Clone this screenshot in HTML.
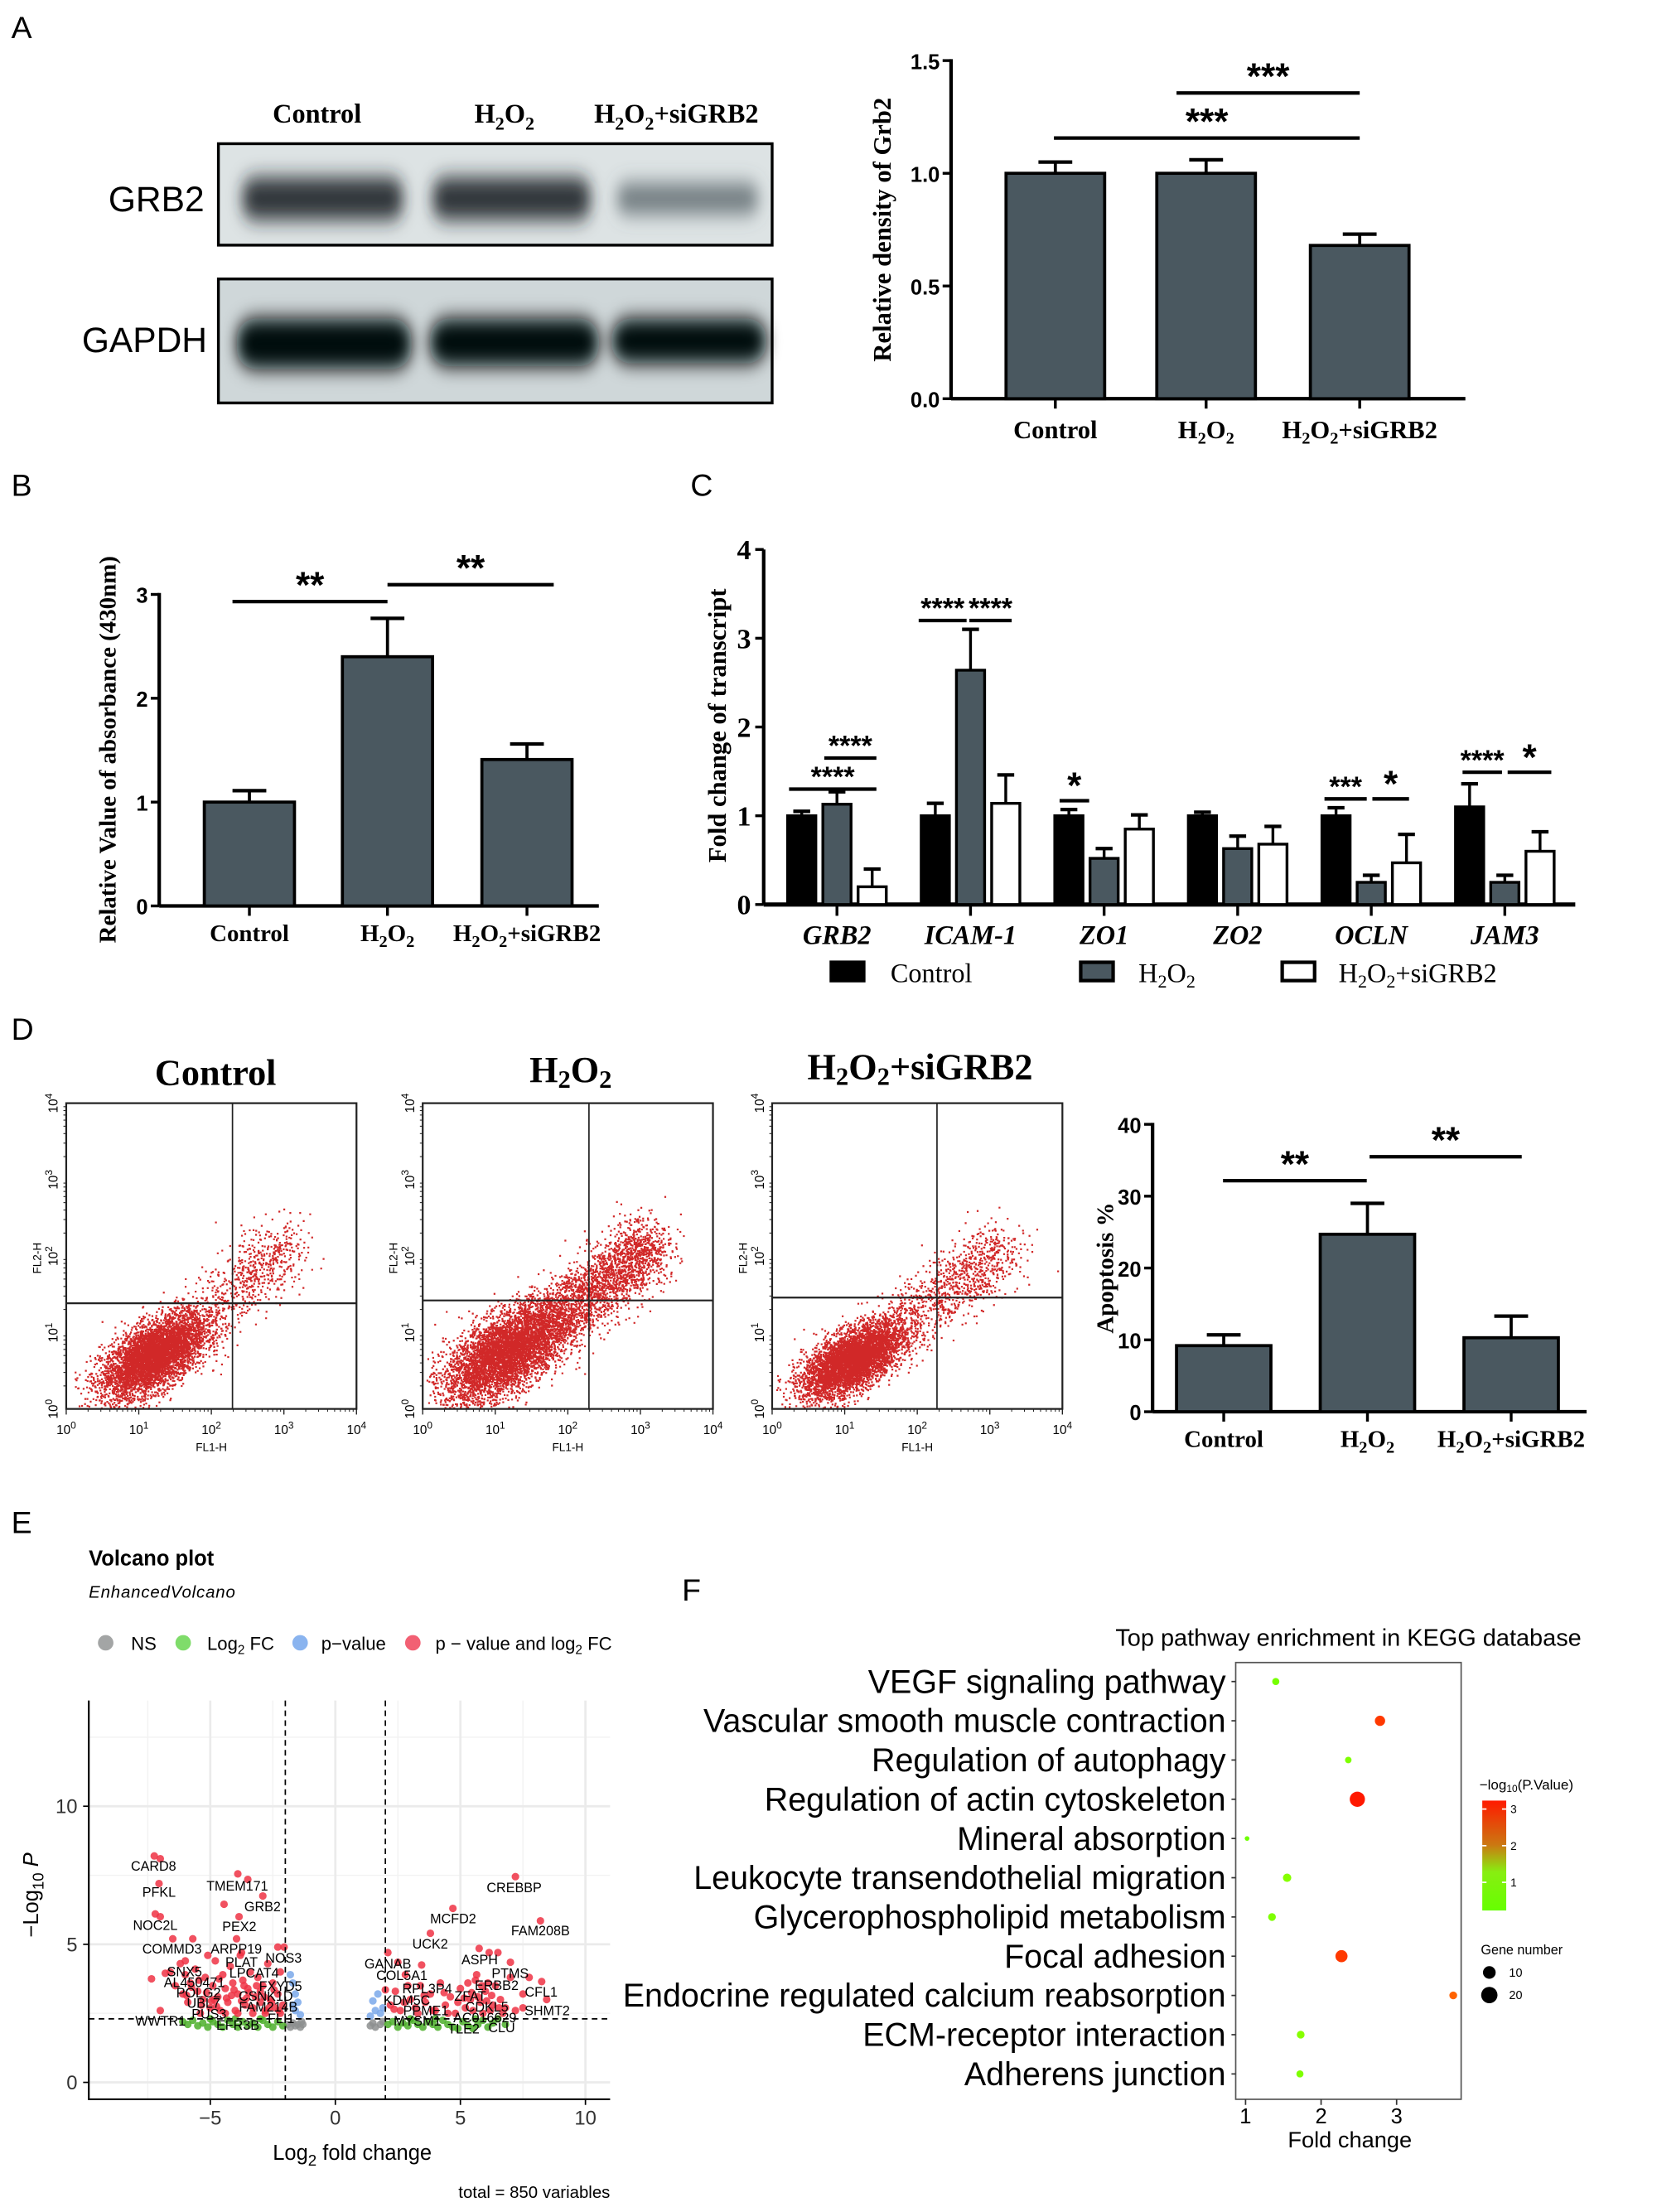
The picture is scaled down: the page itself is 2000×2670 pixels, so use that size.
<!DOCTYPE html>
<html><head><meta charset="utf-8">
<style>
html,body{margin:0;padding:0;background:#fff;}
svg{display:block;}
.ser{font-family:"Liberation Serif",serif;font-weight:bold;}
.sans{font-family:"Liberation Sans",sans-serif;}
.sb{font-family:"Liberation Sans",sans-serif;font-weight:bold;}
</style></head>
<body>
<svg id="fig" xmlns="http://www.w3.org/2000/svg" width="2000" height="2670" viewBox="0 0 1176 1570" preserveAspectRatio="none">
<defs>
<filter id="blur6" x="-30%" y="-60%" width="160%" height="220%"><feGaussianBlur stdDeviation="5 7"/></filter>
<linearGradient id="cbar" x1="0" y1="1" x2="0" y2="0"><stop offset="0" stop-color="#66ff00"/><stop offset="0.35" stop-color="#88ee11"/><stop offset="0.6" stop-color="#cc7711"/><stop offset="1" stop-color="#ff1a00"/></linearGradient>
</defs>

<g class="sans" font-size="22" fill="#000">
<text x="8" y="27">A</text>
<text x="8" y="352">B</text>
<text x="490" y="352">C</text>
<text x="8" y="738">D</text>
<text x="8" y="1088">E</text>
<text x="484" y="1136">F</text>
</g>

<g>
<g class="ser" font-size="19" text-anchor="middle">
<text x="225" y="87">Control</text>
<text x="358" y="87">H<tspan font-size="13" dy="5">2</tspan><tspan dy="-5">O</tspan><tspan font-size="13" dy="5">2</tspan></text>
<text x="480" y="87">H<tspan font-size="13" dy="5">2</tspan><tspan dy="-5">O</tspan><tspan font-size="13" dy="5">2</tspan><tspan dy="-5">+siGRB2</tspan></text>
</g>
<text class="sans" x="145" y="150" font-size="25" text-anchor="end">GRB2</text>
<text class="sans" x="147" y="250" font-size="25" text-anchor="end">GAPDH</text>
<rect x="155" y="102" width="393" height="72" fill="#dde3e4"/>
<rect x="155" y="198" width="393" height="88" fill="#cfd7d9"/>
<g filter="url(#blur6)">
<rect x="172" y="126" width="114" height="30" rx="10" fill="#1c2328" opacity="0.9"/>
<rect x="307" y="126" width="112" height="30" rx="10" fill="#1c2328" opacity="0.9"/>
<rect x="438" y="130" width="100" height="22" rx="8" fill="#5a666c" opacity="0.8"/>
<rect x="168" y="226" width="124" height="36" rx="14" fill="#050708"/>
<rect x="305" y="226" width="120" height="34" rx="14" fill="#050708"/>
<rect x="434" y="226" width="110" height="32" rx="14" fill="#050708"/>
</g>
<rect x="155" y="102" width="393" height="72" fill="none" stroke="#000" stroke-width="2"/>
<rect x="155" y="198" width="393" height="88" fill="none" stroke="#000" stroke-width="2"/>
</g>

<g id="chartA"></g>
<g id="chartB"></g>
<g id="chartC"></g>
<g id="flow"></g>
<g id="chartD"></g>
<g id="volcano"></g>
<g id="kegg"></g>
</svg>

<script>
// ---------- DATA ----------
const groupsA = ["Control","H2O2","H2O2+siGRB2"];
const valuesA = [1.0, 1.0, 0.68];
const errorsA = [0.05, 0.06, 0.05];
const ticksA = [0.0, 0.5, 1.0, 1.5];

const valuesB = [1.0, 2.4, 1.41];
const errorsB = [0.11, 0.37, 0.15];
const ticksB = [0, 1, 2, 3];

const genesC = ["GRB2","ICAM-1","ZO1","ZO2","OCLN","JAM3"];
const controlC = [1.0, 1.0, 1.0, 1.0, 1.0, 1.1];
const controlErrC = [0.05, 0.14, 0.07, 0.04, 0.09, 0.26];
const h2o2C = [1.13, 2.64, 0.52, 0.63, 0.25, 0.25];
const h2o2ErrC = [0.14, 0.46, 0.11, 0.14, 0.08, 0.08];
const siC = [0.2, 1.14, 0.85, 0.68, 0.47, 0.6];
const siErrC = [0.2, 0.32, 0.16, 0.2, 0.32, 0.22];
const ticksC = [0, 1, 2, 3, 4];

const valuesD = [9.2, 24.7, 10.3];
const errorsD = [1.5, 4.3, 3.0];
const ticksD = [0, 10, 20, 30, 40];

const volRed = [[-7.24,8.2],[-7.0,8.1],[-7.05,7.2],[-7.2,6.1],[-7.0,6.0],[-6.5,5.2],[-5.7,5.2],[-3.9,7.55],[-3.5,7.35],[-2.9,6.75],[-4.45,6.45],[-3.85,6.0],[-3.95,5.2],[-3.75,4.7],[-2.3,4.9],[-2.05,4.9],[-6.0,4.4],[-7.35,3.75],[-6.8,3.95],[-7.0,2.6],
[-6.2,4.3],[-6.0,3.9],[-5.8,3.6],[-5.6,4.1],[-5.5,3.3],[-5.3,3.0],[-5.2,3.8],[-5.0,2.7],[-4.9,3.5],[-4.8,4.4],[-4.7,3.1],[-4.6,2.6],[-4.5,3.9],[-4.4,3.4],[-4.3,2.9],[-4.2,4.2],[-4.1,3.6],[-4.0,2.6],[-3.9,3.2],[-3.8,4.6],[-3.7,3.7],[-3.6,2.8],[-3.5,3.4],[-3.4,4.0],[-3.3,2.7],[-3.2,3.1],[-3.1,3.8],[-3.0,2.9],[-2.9,3.5],[-2.8,2.6],[-2.7,4.3],[-2.6,3.0],[-2.5,3.6],[-2.4,2.7],[-2.3,3.2],[-2.2,4.0],[-2.1,2.8],[-6.4,3.5],[-5.9,2.9],[-5.4,2.5],[-5.1,4.6],[-4.4,2.5],[-3.9,2.5],[-3.3,2.5],[-2.8,2.5],[-2.2,2.5],[-6.6,4.0],[-6.1,3.2],[-4.85,3.0],[-4.15,3.15],[-3.55,3.05],[-3.0,3.3],[-2.55,2.9],
[-5.75,3.45],[-5.45,3.7],[-5.15,3.25],[-4.95,2.95],[-4.65,3.75],[-4.35,3.05],[-4.05,3.35],[-3.75,2.95],[-3.45,3.25],[-3.15,3.5],[-2.85,3.1],[-2.45,3.35],[-2.25,2.6],[-5.95,3.15],[-5.35,2.8],[-4.75,2.75],[-3.65,3.5],[-2.65,2.7],
[7.2,7.45],[4.7,6.3],[8.2,5.85],[3.8,5.4],[5.75,4.85],[6.15,4.7],[6.5,4.7],[7.0,4.35],[2.1,4.7],[2.5,4.35],[3.45,4.25],[8.25,3.65],[7.75,3.8],[7.5,3.2],[8.45,3.0],[7.5,2.7],[2.0,3.35],[5.65,3.9],
[2.2,2.8],[2.4,3.3],[2.6,2.6],[2.8,3.9],[3.0,3.0],[3.2,2.7],[3.4,3.5],[3.6,2.9],[3.8,3.2],[4.0,2.6],[4.2,3.6],[4.4,2.8],[4.6,3.1],[4.8,2.5],[5.0,3.4],[5.2,2.7],[5.4,3.0],[5.6,3.7],[5.8,2.9],[6.0,3.3],[6.2,2.6],[6.4,3.5],[6.6,3.0],[6.8,2.7],[7.0,3.8],[5.3,3.6],[5.7,3.1],[6.1,3.6],[4.9,2.9],[3.3,2.5],[4.5,2.5],[5.9,2.5],[6.7,2.5],[7.2,2.6],[2.9,3.5],[3.9,2.6],[5.5,2.6],[6.3,2.8],
[5.45,3.25],[5.85,3.5],[6.05,2.95],[6.25,3.15],[5.15,3.05],[4.35,3.25],[3.55,3.15],[2.75,2.9],[2.35,2.65],[6.55,2.7]];
const volGreen = [[-6.1,2.2],[-5.9,2.1],[-5.7,2.25],[-5.5,2.05],[-5.3,2.15],[-5.1,2.0],[-4.9,2.2],[-4.7,2.1],[-4.5,2.0],[-4.3,2.25],[-4.1,2.1],[-3.9,2.0],[-3.7,2.2],[-3.5,2.05],[-3.3,2.15],[-3.1,2.0],[-2.9,2.25],[-2.7,2.1],[-2.5,2.0],[-2.3,2.2],[-2.1,2.05],[-5.0,2.3],[-4.0,2.3],[-3.0,2.3],
[2.1,2.1],[2.3,2.2],[2.5,2.0],[2.7,2.15],[2.9,2.05],[3.1,2.25],[3.3,2.1],[3.5,2.0],[3.7,2.2],[3.9,2.1],[4.1,2.0],[4.3,2.25],[4.5,2.1],[4.7,2.0],[4.9,1.95],[5.1,2.2],[5.3,2.05],[5.5,1.95],[5.7,2.1],[5.9,2.25],[6.1,2.0],[6.3,2.15],[6.5,2.3],[6.8,2.1],[3.0,2.3],[4.0,2.3],[5.6,2.3]];
const volGray = [[-1.9,2.1],[-1.8,2.0],[-1.7,2.15],[-1.6,2.05],[-1.5,2.1],[-1.4,2.0],[-1.3,2.1],[-1.35,2.2],[1.4,2.05],[1.5,2.15],[1.6,2.0],[1.8,2.1],[1.9,2.2]];
const volBlue = [[-1.8,3.9],[-1.7,3.6],[-1.6,3.2],[-1.5,2.9],[-1.6,2.6],[-1.4,2.45],[-1.7,2.8],[1.5,2.95],[1.7,3.2],[1.6,2.6],[1.8,2.5],[1.4,2.4],[1.9,2.7]];
const volLabels = [["CARD8",-7.27,7.85],["PFKL",-7.05,6.9],["NOC2L",-7.2,5.7],["COMMD3",-6.53,4.84],["TMEM171",-3.92,7.13],["GRB2",-2.91,6.38],["PEX2",-3.84,5.65],["ARPP19",-3.96,4.84],["NOS3",-2.07,4.51],["PLAT",-3.75,4.36],["SNX5",-6.03,4.02],["LPCAT4",-3.25,3.97],["AL450471",-5.64,3.63],["FXYD5",-2.19,3.5],["POLG2",-5.47,3.26],["CSNK1D",-2.78,3.14],["UBL7",-5.27,2.88],["FAM214B",-2.68,2.74],["PUS3",-5.05,2.49],["WWTR1",-6.99,2.23],["EFR3B",-3.9,2.08],["FLI1",-2.17,2.33],
["CREBBP",7.15,7.07],["MCFD2",4.71,5.94],["FAM208B",8.2,5.5],["UCK2",3.79,5.02],["ASPH",5.77,4.45],["GANAB",2.1,4.3],["PTMS",6.99,3.96],["COL5A1",2.66,3.89],["ERBB2",6.45,3.53],["RPL3P4",3.67,3.4],["CFL1",8.23,3.29],["KDM5C",2.86,2.98],["ZFAT",5.39,3.13],["PPME1",3.62,2.61],["CDKL5",6.06,2.74],["SHMT2",8.47,2.61],["AC016629",5.98,2.36],["MYSM1",3.28,2.23],["TLE2",5.13,1.95],["CLU",6.65,2.0]];
const volXTicks = [-5, 0, 5, 10];
const volYTicks = [0, 5, 10];

const pathways = ["VEGF signaling pathway","Vascular smooth muscle contraction","Regulation of autophagy","Regulation of actin cytoskeleton","Mineral absorption","Leukocyte transendothelial migration","Glycerophospholipid metabolism","Focal adhesion","Endocrine regulated calcium reabsorption","ECM-receptor interaction","Adherens junction"];
const foldChange = [1.4, 2.78, 2.36, 2.48, 1.02, 1.55, 1.35, 2.27, 3.75, 1.73, 1.72];
const negLogP = [0.4, 3.0, 0.5, 3.3, 0.3, 0.6, 0.5, 3.0, 2.6, 0.6, 0.5];
const geneNumber = [7, 12, 6, 20, 3, 9, 8, 15, 8, 8, 7];
const keggTicks = [1, 2, 3];

// ---------- HELPERS ----------
const NS = "http://www.w3.org/2000/svg";
function mk(tag, attrs, parent){
  const el = document.createElementNS(NS, tag);
  for (const k in attrs) el.setAttribute(k, attrs[k]);
  parent.appendChild(el);
  return el;
}
function nm(el, name){
  
  
}
function h2o2(el, fs, extra){
  const s = Math.round(fs*0.68);
  el.innerHTML = 'H<tspan font-size="'+s+'" dy="4">2</tspan><tspan dy="-4">O</tspan><tspan font-size="'+s+'" dy="4">2</tspan>' + (extra ? '<tspan dy="-4">'+extra+'</tspan>' : '');
}
const BAR = "#4a5860";

function simpleBar(g, cfg){
  const y = v => cfg.y0 - v*cfg.k;
  mk('line',{x1:cfg.ax,y1:y(0),x2:cfg.ax,y2:y(cfg.ticks[cfg.ticks.length-1])-1,stroke:'#000','stroke-width':2.5},g);
  const xa = mk('line',{x1:cfg.ax,y1:y(0),x2:cfg.xend,y2:y(0),stroke:'#000','stroke-width':2.5},g);
  nm(xa,'x-axis');
  cfg.ticks.forEach(t=>{
    mk('line',{x1:cfg.ax-6,y1:y(t),x2:cfg.ax,y2:y(t),stroke:'#000','stroke-width':2},g);
    const tx = mk('text',{x:cfg.ax-8,y:y(t)+6,'text-anchor':'end','font-size':cfg.tfs,class:'sb'},g);
    tx.textContent = cfg.fmt(t);
    nm(tx,'y-tick-label');
  });
  cfg.vals.forEach((v,i)=>{
    const x0 = cfg.bx[i], w = cfg.bw, cx = x0+w/2;
    const eb = mk('line',{x1:cx,y1:y(v),x2:cx,y2:y(v+cfg.errs[i]),stroke:'#000','stroke-width':2.2},g);
    nm(eb,'error-bar');
    mk('line',{x1:cx-12,y1:y(v+cfg.errs[i]),x2:cx+12,y2:y(v+cfg.errs[i]),stroke:'#000','stroke-width':2.5},g);
    const r = mk('rect',{x:x0,y:y(v),width:w,height:y(0)-y(v),fill:BAR,stroke:'#000','stroke-width':2.2},g);
    nm(r,'bar-'+cfg.names[i]);
    mk('line',{x1:cx,y1:y(0),x2:cx,y2:y(0)+7,stroke:'#000','stroke-width':2},g);
    const lb = mk('text',{x:cx,y:cfg.ly,'text-anchor':'middle','font-size':cfg.lfs,class:'ser'},g);
    if (i===0) lb.textContent = 'Control'; else h2o2(lb, cfg.lfs, i===2 ? '+siGRB2' : '');
    nm(lb,'x-label-'+cfg.names[i]);
  });
  cfg.sig.forEach(s=>{
    const l = mk('line',{x1:s[0],y1:s[2],x2:s[1],y2:s[2],stroke:'#000','stroke-width':2.5},g);
    nm(l,'significance-bar');
    const t = mk('text',{x:(s[0]+s[1])/2,y:s[2]-3,'text-anchor':'middle','font-size':s[4]||26,class:'sb'},g);
    t.textContent = s[3];
    nm(t,'significance-stars');
  });
  const tt = mk('text',{transform:'translate('+cfg.tx+','+cfg.ty+') rotate(-90)','text-anchor':'middle','font-size':cfg.tt_fs,class:'ser'},g);
  tt.textContent = cfg.title;
  nm(tt,'y-axis-title');
}
const names3 = ['control','h2o2','h2o2-sigrb2'];

simpleBar(document.getElementById('chartA'),{ax:675,y0:283,k:160,xend:1040,ticks:ticksA,fmt:t=>t.toFixed(1),tfs:15,
  vals:valuesA,errs:errorsA,bx:[714,821,930],bw:70,ly:311,lfs:18,names:names3,
  sig:[[748,965,98,'***'],[835,965,66,'***']],tx:632,ty:163,tt_fs:18,title:'Relative density of Grb2'});
simpleBar(document.getElementById('chartB'),{ax:113,y0:643,k:73.7,xend:425,ticks:ticksB,fmt:t=>String(t),tfs:15,
  vals:valuesB,errs:errorsB,bx:[145,243,342],bw:64,ly:668,lfs:17,names:names3,
  sig:[[165,275,427,'**'],[275,393,415,'**']],tx:82,ty:532,tt_fs:17,title:'Relative Value of absorbance (430nm)'});
simpleBar(document.getElementById('chartD'),{ax:818,y0:1002,k:5.1,xend:1126,ticks:ticksD,fmt:t=>String(t),tfs:15,
  vals:valuesD,errs:errorsD,bx:[835,937,1039],bw:67,ly:1027,lfs:17,names:names3,
  sig:[[868,970,838,'**'],[972,1080,821,'**']],tx:790,ty:900,tt_fs:17,title:'Apoptosis %'});

// ---------- C ----------
(function(){
  const g = document.getElementById('chartC');
  const y = v => 642 - v*63;
  const centers = genesC.map((_,i)=>594 + i*94.8);
  mk('line',{x1:542,y1:y(0),x2:542,y2:y(4),stroke:'#000','stroke-width':2.5},g);
  mk('line',{x1:542,y1:y(0),x2:1118,y2:y(0),stroke:'#000','stroke-width':3},g);
  ticksC.forEach(t=>{
    mk('line',{x1:536,y1:y(t),x2:542,y2:y(t),stroke:'#000','stroke-width':2},g);
    const tx = mk('text',{x:533,y:y(t)+7,'text-anchor':'end','font-size':20,class:'ser'},g);
    tx.textContent = t; nm(tx,'y-tick-label');
  });
  const series = [[controlC,controlErrC,'#000',-35,'control'],[h2o2C,h2o2ErrC,BAR,-10,'h2o2'],[siC,siErrC,'#fff',15,'h2o2-sigrb2']];
  centers.forEach((c,i)=>{
    series.forEach(s=>{
      const v = s[0][i], e = s[1][i], x0 = c + s[3], w = 20, cx = x0+w/2;
      mk('line',{x1:cx,y1:y(v),x2:cx,y2:y(v+e),stroke:'#000','stroke-width':2},g);
      mk('line',{x1:cx-6,y1:y(v+e),x2:cx+6,y2:y(v+e),stroke:'#000','stroke-width':2.5},g);
      const r = mk('rect',{x:x0,y:y(v),width:w,height:y(0)-y(v),fill:s[2],stroke:'#000','stroke-width':2},g);
      nm(r,'bar-'+genesC[i].toLowerCase()+'-'+s[4]);
    });
    mk('line',{x1:c,y1:y(0),x2:c,y2:y(0)+8,stroke:'#000','stroke-width':2},g);
    const lb = mk('text',{x:c,y:670,'text-anchor':'middle','font-size':19,class:'ser','font-style':'italic'},g);
    lb.textContent = genesC[i]; nm(lb,'x-label-'+genesC[i].toLowerCase());
  });
  const sigs = [[560,622,1.3,'****'],[585,622,1.65,'****'],[652,686,3.2,'****'],[688,718,3.2,'****'],[752,773,1.17,'*'],[940,970,1.19,'***'],[974,1000,1.19,'*'],[1038,1066,1.49,'****'],[1070,1101,1.49,'*']];
  sigs.forEach(s=>{
    const l = mk('line',{x1:s[0],y1:y(s[2]),x2:s[1],y2:y(s[2]),stroke:'#000','stroke-width':2.5},g);
    nm(l,'significance-bar');
    const t = mk('text',{x:(s[0]+s[1])/2,y:y(s[2])-2,'text-anchor':'middle','font-size':s[3]==='*'?26:20,class:'sb'},g);
    t.textContent = s[3]; nm(t,'significance-stars');
  });
  const tt = mk('text',{transform:'translate(515,515) rotate(-90)','text-anchor':'middle','font-size':18,class:'ser'},g);
  tt.textContent = 'Fold change of transcript'; nm(tt,'y-axis-title');
  const leg = [[590,'#000','Control',632],[767,BAR,'H2O2',808],[910,'#fff','H2O2+siGRB2',950]];
  leg.forEach((L,i)=>{
    const r = mk('rect',{x:L[0],y:683,width:23,height:13,fill:L[1],stroke:'#000','stroke-width':2.5},g);
    nm(r,'legend-swatch');
    const t = mk('text',{x:L[3],y:697,'font-size':19,style:'font-family:"Liberation Serif",serif;font-weight:normal'},g);
    if (i===0) t.textContent='Control'; else h2o2(t,19,i===2?'+siGRB2':'');
    nm(t,'legend-entry');
  });
})();

// ---------- Flow cytometry ----------
let seed = 12345;
function rnd(){ seed = (seed*1103515245 + 12345) % 2147483648; return seed/2147483648; }
function gauss(){ let u=0,v=0; while(u===0)u=rnd(); v=rnd(); return Math.sqrt(-2*Math.log(u))*Math.cos(2*Math.PI*v); }
const flowPanels = [
  {x0:47,title:'Control',tx:153,ty:770,qx:165,qy:925,main:5000,mx:1.2,my:0.7,sx:0.36,sy:0.27,tail:700,tailEnd:[2.95,2.2]},
  {x0:300,title:'H2O2',tx:405,ty:768,qx:418,qy:923,main:5200,mx:1.15,my:0.75,sx:0.42,sy:0.32,tail:2200,tailEnd:[3.0,2.15]},
  {x0:548,title:'H2O2+siGRB2',tx:653,ty:766,qx:665,qy:921,main:5000,mx:1.1,my:0.65,sx:0.34,sy:0.24,tail:1000,tailEnd:[3.05,2.1]}
];
(function(){
  const g = document.getElementById('flow');
  flowPanels.forEach((p,pi)=>{
    const W = 206, top = 783, bot = 1000;
    const X = lx => p.x0 + lx/4*W, Y = ly => bot - ly/4*(bot-top);
    const t = mk('text',{x:p.tx,y:p.ty,'text-anchor':'middle','font-size':26,class:'ser'},g);
    if (pi===0) t.textContent='Control'; else h2o2(t,26,pi===2?'+siGRB2':'');
    nm(t,'flow-title');
    const dots = mk('g',{fill:'#cc1111'},g);
    nm(dots,'flow-events');
    let d = '';
    for (let i=0;i<p.main;i++){
      const a = gauss(), b = gauss();
      const lx = p.mx + p.sx*a, ly = p.my + p.sy*(0.6*a + 0.8*b);
      if (lx<0.05||ly<0.02||lx>3.95||ly>3.95) continue;
      d += 'M'+X(lx).toFixed(1)+' '+Y(ly).toFixed(1)+'h1.3v1.3h-1.3z';
    }
    for (let i=0;i<p.tail;i++){
      const s = Math.pow(rnd(),0.7);
      const lx = 1.5 + s*(p.tailEnd[0]-1.5) + 0.2*gauss() + 0.15*s;
      const ly = 0.95 + s*(p.tailEnd[1]-0.95) + 0.22*gauss();
      if (lx<0.05||ly<0.02||lx>3.95||ly>3.95) continue;
      d += 'M'+X(lx).toFixed(1)+' '+Y(ly).toFixed(1)+'h1.3v1.3h-1.3z';
    }
    mk('path',{d:d,opacity:0.9},dots);
    const box = mk('rect',{x:p.x0,y:top,width:W,height:bot-top,fill:'none',stroke:'#222','stroke-width':1.3},g);
    nm(box,'flow-plot-frame');
    mk('line',{x1:p.qx,y1:top,x2:p.qx,y2:bot,stroke:'#222','stroke-width':1},g);
    mk('line',{x1:p.x0,y1:p.qy,x2:p.x0+W,y2:p.qy,stroke:'#222','stroke-width':1.3},g);
    for (let k=0;k<=4;k++){
      const tx = mk('text',{x:X(k),y:1018,'text-anchor':'middle','font-size':9,class:'sans'},g);
      tx.innerHTML = '10<tspan dy="-4" font-size="7">'+k+'</tspan>'; nm(tx,'x-tick-label');
      const ty = mk('text',{transform:'translate('+(p.x0-6)+','+Y(k)+') rotate(-90)','text-anchor':'middle','font-size':9,class:'sans'},g);
      ty.innerHTML = '10<tspan dy="-4" font-size="7">'+k+'</tspan>'; nm(ty,'y-tick-label');
      for (let m=2;m<10 && k<4;m++){
        const lx = k + Math.log10(m);
        mk('line',{x1:X(lx),y1:bot,x2:X(lx),y2:bot+2,stroke:'#222','stroke-width':0.6},g);
        mk('line',{x1:p.x0,y1:Y(lx),x2:p.x0-2,y2:Y(lx),stroke:'#222','stroke-width':0.6},g);
      }
      mk('line',{x1:X(k),y1:bot,x2:X(k),y2:bot+4,stroke:'#222','stroke-width':0.8},g);
    }
    const xl = mk('text',{x:p.x0+W/2,y:1030,'text-anchor':'middle','font-size':8,class:'sans'},g);
    xl.textContent='FL1-H'; nm(xl,'x-axis-title');
    const yl = mk('text',{transform:'translate('+(p.x0-18)+',893) rotate(-90)','text-anchor':'middle','font-size':8,class:'sans'},g);
    yl.textContent='FL2-H'; nm(yl,'y-axis-title');
  });
})();

// ---------- Volcano ----------
(function(){
  const g = document.getElementById('volcano');
  const X = v => 238 + v*17.75, Y = v => 1478 - v*19.6;
  const L = 63, R = 433, T = 1207, B = 1490;
  const tt = mk('text',{x:63,y:1111,'font-size':15,'font-weight':'bold',class:'sans'},g); tt.textContent='Volcano plot'; nm(tt,'chart-title');
  const st = mk('text',{x:63,y:1134,'font-size':12,'font-style':'italic',class:'sans','letter-spacing':'0.5'},g); st.textContent='EnhancedVolcano'; nm(st,'chart-subtitle');
  const lg = [[75,'#a3a5a5','NS',93],[130,'#7fdc6a','Log<tspan dy="3" font-size="9">2</tspan><tspan dy="-3"> FC</tspan>',147],[213,'#8ab4ef','p\u2212value',228],[293,'#f26073','p \u2212 value and log<tspan dy="3" font-size="9">2</tspan><tspan dy="-3"> FC</tspan>',309]];
  lg.forEach(l=>{
    const c = mk('circle',{cx:l[0],cy:1166,r:5.5,fill:l[1]},g); nm(c,'legend-marker');
    const t = mk('text',{x:l[3],y:1171,'font-size':13,class:'sans'},g); t.innerHTML=l[2]; nm(t,'legend-entry');
  });
  [-7.5,-2.5,2.5,7.5].forEach(v=>mk('line',{x1:X(v),y1:T,x2:X(v),y2:B,stroke:'#f2f2f2','stroke-width':0.8},g));
  [2.5,7.5,12.5].forEach(v=>mk('line',{x1:L,y1:Y(v),x2:R,y2:Y(v),stroke:'#f2f2f2','stroke-width':0.8},g));
  volXTicks.forEach(v=>mk('line',{x1:X(v),y1:T,x2:X(v),y2:B,stroke:'#ebebeb','stroke-width':1.6},g));
  volYTicks.forEach(v=>mk('line',{x1:L,y1:Y(v),x2:R,y2:Y(v),stroke:'#ebebeb','stroke-width':1.6},g));
  const pts = [[volGray,'#8d8f8f','ns-point'],[volGreen,'#4caf2a','log2fc-point'],[volBlue,'#7aa8ea','pvalue-point'],[volRed,'#ee3344','significant-point']];
  pts.forEach(s=>{
    s[0].forEach(p=>{
      const c = mk('circle',{cx:X(p[0]),cy:Y(p[1]),r:2.7,fill:s[1],opacity:0.85},g);
      nm(c,s[2]);
    });
  });
  [-2,2].forEach(v=>mk('line',{x1:X(v),y1:T,x2:X(v),y2:B,stroke:'#000','stroke-width':1,'stroke-dasharray':'4,3'},g));
  mk('line',{x1:L,y1:Y(2.3),x2:R,y2:Y(2.3),stroke:'#000','stroke-width':1,'stroke-dasharray':'4,3'},g);
  volLabels.forEach(l=>{
    const t = mk('text',{x:X(l[1]),y:Y(l[2])+3.5,'text-anchor':'middle','font-size':9.5,class:'sans'},g);
    t.textContent = l[0]; nm(t,'gene-label');
  });
  const ax = mk('path',{d:'M'+L+' '+T+'V'+B+'H'+R,fill:'none',stroke:'#000','stroke-width':1.3},g); nm(ax,'axes');
  volXTicks.forEach(v=>{
    mk('line',{x1:X(v),y1:B,x2:X(v),y2:B+4,stroke:'#000'},g);
    const t = mk('text',{x:X(v),y:B+18,'text-anchor':'middle','font-size':14,class:'sans',fill:'#333'},g);
    t.textContent = v<0 ? '\u2212'+(-v) : v; nm(t,'x-tick-label');
  });
  volYTicks.forEach(v=>{
    mk('line',{x1:L-4,y1:Y(v),x2:L,y2:Y(v),stroke:'#000'},g);
    const t = mk('text',{x:L-8,y:Y(v)+5,'text-anchor':'end','font-size':14,class:'sans',fill:'#333'},g);
    t.textContent = v; nm(t,'y-tick-label');
  });
  const xt = mk('text',{x:250,y:1533,'text-anchor':'middle','font-size':15,class:'sans'},g);
  xt.innerHTML='Log<tspan dy="4" font-size="11">2</tspan><tspan dy="-4"> fold change</tspan>'; nm(xt,'x-axis-title');
  const yt = mk('text',{transform:'translate(27,1345) rotate(-90)','text-anchor':'middle','font-size':15,class:'sans'},g);
  yt.innerHTML='\u2212Log<tspan dy="4" font-size="11">10</tspan><tspan dy="-4" font-style="italic"> P</tspan>'; nm(yt,'y-axis-title');
  const tot = mk('text',{x:433,y:1560,'text-anchor':'end','font-size':12,class:'sans'},g); tot.textContent='total = 850 variables'; nm(tot,'caption');
})();

// ---------- KEGG ----------
(function(){
  const g = document.getElementById('kegg');
  const X = v => 884 + (v-1)*53.6;
  const Y = i => 1193.5 + i*27.85;
  const tt = mk('text',{x:957,y:1168,'text-anchor':'middle','font-size':17,class:'sans'},g); tt.textContent='Top pathway enrichment in KEGG database'; nm(tt,'chart-title');
  const box = mk('rect',{x:877,y:1180,width:160,height:310,fill:'#fff',stroke:'#555','stroke-width':1},g); nm(box,'plot-frame');
  const col = v => { const t = Math.max(0,Math.min(1,(v-0.2)/3.1)); const r = Math.round(102+153*Math.min(1,t*1.6)); const gg = Math.round(255 - 230*Math.max(0,(t-0.3)/0.7)); return 'rgb('+r+','+Math.max(20,gg)+',0)'; };
  pathways.forEach((p,i)=>{
    const t = mk('text',{x:870,y:Y(i)+8,'text-anchor':'end','font-size':23.2,class:'sans'},g);
    t.textContent = p; nm(t,'pathway-label');
    mk('line',{x1:874,y1:Y(i),x2:877,y2:Y(i),stroke:'#333'},g);
    const c = mk('circle',{cx:X(foldChange[i]),cy:Y(i),r:1+geneNumber[i]*0.22,fill:col(negLogP[i])},g);
    nm(c,'pathway-dot');
  });
  keggTicks.forEach(v=>{
    mk('line',{x1:X(v),y1:1490,x2:X(v),y2:1494,stroke:'#333'},g);
    const t = mk('text',{x:X(v),y:1507,'text-anchor':'middle','font-size':15,class:'sans'},g); t.textContent=v; nm(t,'x-tick-label');
  });
  const xt = mk('text',{x:958,y:1524,'text-anchor':'middle','font-size':16,class:'sans'},g); xt.textContent='Fold change'; nm(xt,'x-axis-title');
  const lt = mk('text',{x:1050,y:1270,'font-size':10,class:'sans'},g); lt.innerHTML='\u2212log<tspan dy="2" font-size="7">10</tspan><tspan dy="-2">(P.Value)</tspan>'; nm(lt,'colorbar-title');
  const cb = mk('rect',{x:1052,y:1278,width:17,height:78,fill:'url(#cbar)'},g); nm(cb,'colorbar');
  [[3,1284],[2,1310],[1,1336]].forEach(c=>{
    mk('line',{x1:1052,y1:c[1],x2:1055,y2:c[1],stroke:'#fff'},g);
    mk('line',{x1:1066,y1:c[1],x2:1069,y2:c[1],stroke:'#fff'},g);
    const t = mk('text',{x:1072,y:c[1]+3,'font-size':8,class:'sans'},g); t.textContent=c[0]; nm(t,'colorbar-tick');
  });
  const gn = mk('text',{x:1051,y:1387,'font-size':9.5,class:'sans'},g); gn.textContent='Gene number'; nm(gn,'size-legend-title');
  [[10,1400,4.5],[20,1416,5.8]].forEach(s=>{
    const c = mk('circle',{cx:1057,cy:s[1],r:s[2],fill:'#000'},g); nm(c,'size-legend-marker');
    const t = mk('text',{x:1071,y:s[1]+3,'font-size':8.5,class:'sans'},g); t.textContent=s[0]; nm(t,'size-legend-label');
  });
})();
</script>
</body></html>
